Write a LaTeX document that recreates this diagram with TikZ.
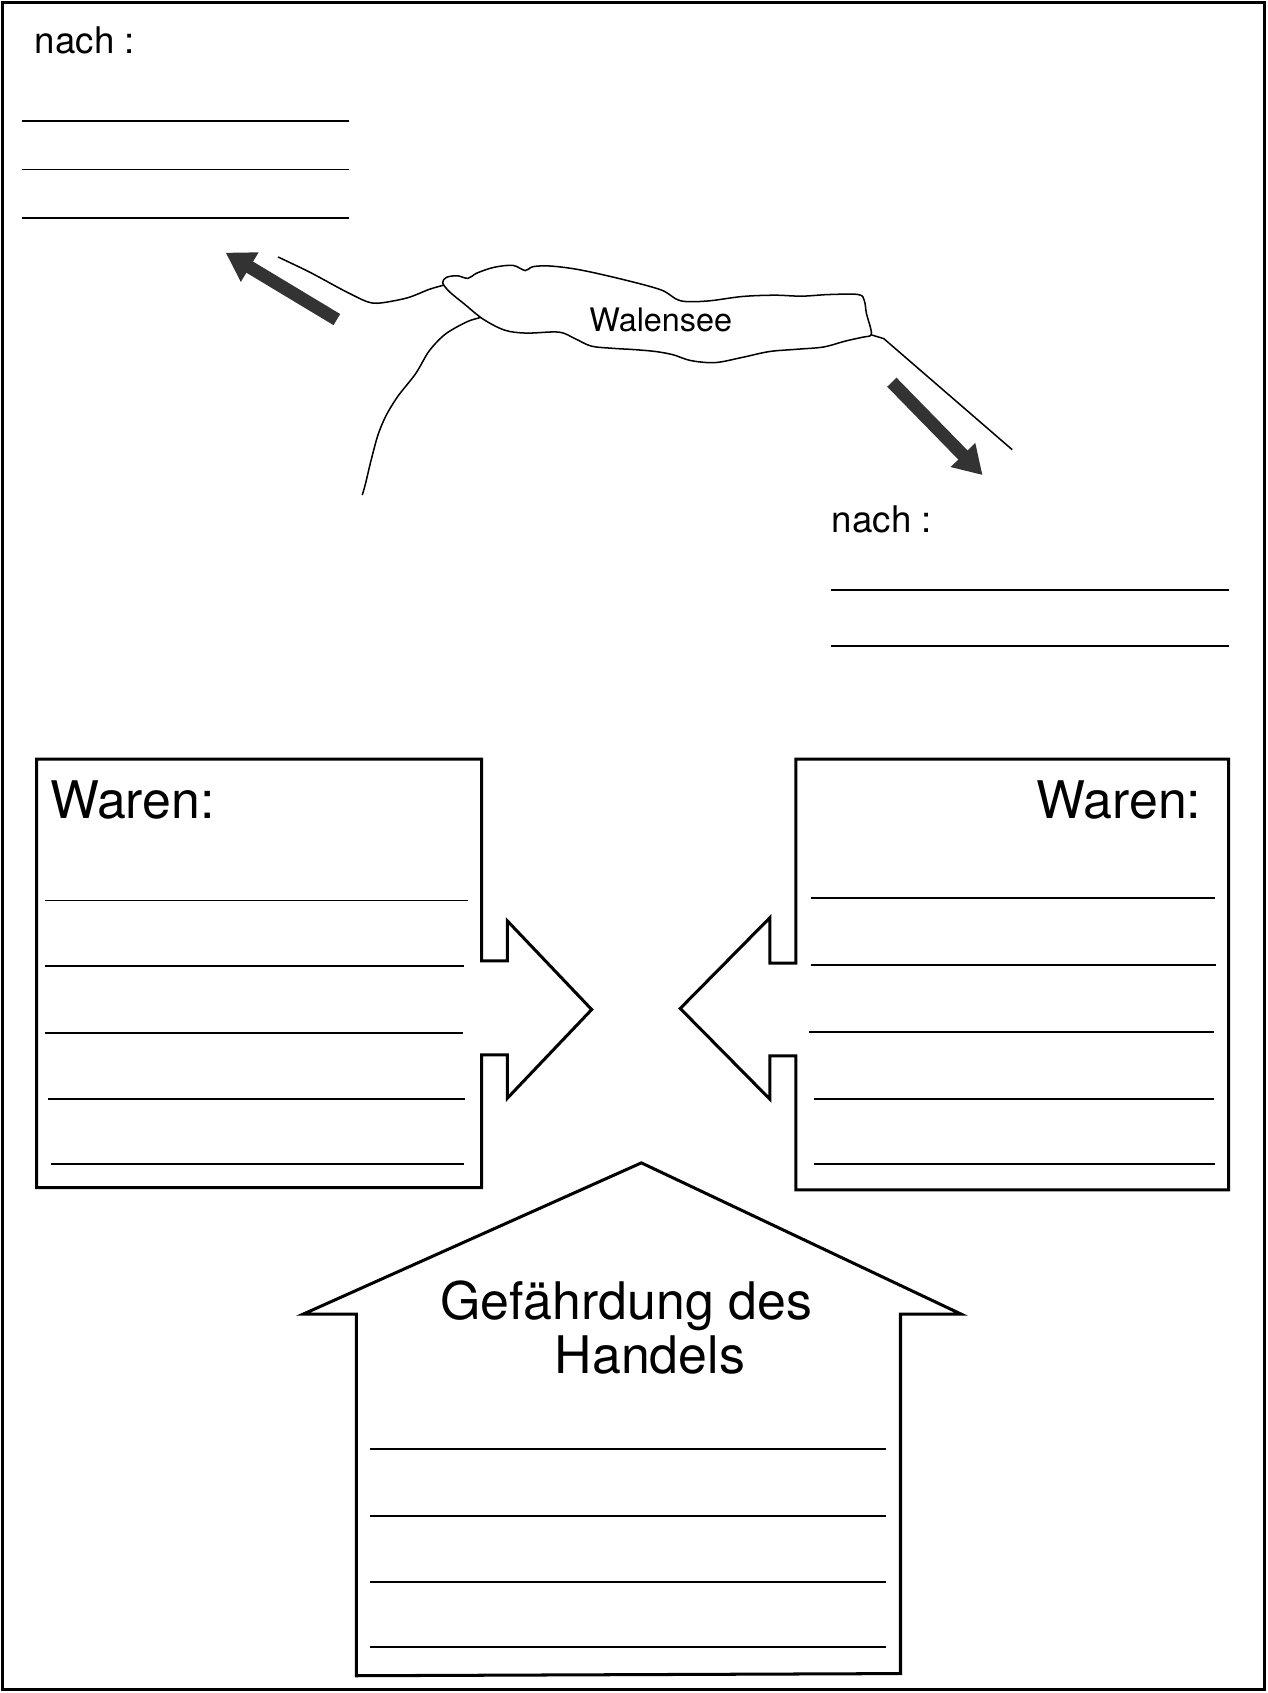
\documentclass[tikz,border=0pt]{standalone}
\usepackage{fontspec}
\setmainfont{TeX Gyre Heros}
\usetikzlibrary{arrows.meta}
\definecolor{arrowgray}{HTML}{333333}
\begin{document}
\begin{tikzpicture}[x=0.5pt,y=-0.5pt,
  frame/.style={line width=1.4pt},
  outline/.style={line width=1.4pt, line join=miter},
  wline/.style={line width=0.9pt},
  river/.style={line width=0.7pt, line join=round},
  flow/.style={draw=arrowgray, line width=6pt, -{Triangle[length=13pt,width=15pt]}},
  txt/.style={inner sep=0pt, text=black}]
\useasboundingbox (0,0) rectangle (1174,1568);
% page frame
\draw[frame] (2,2) rectangle (1171,1565);

% top-left "nach :"
\node[txt, anchor=base west, font=\fontsize{17pt}{20pt}\selectfont] (nach1) at (32,50) {nach :};
\foreach \y in {112,157,202} \draw[wline] (20,\y) -- (323,\y);

% bottom-right "nach :"
\node[txt, anchor=base west, font=\fontsize{17pt}{20pt}\selectfont] (nach2) at (770,493) {nach :};
\foreach \y in {546,598} \draw[wline] (770,\y) -- (1138,\y);

% lake and rivers
\begin{scope}[shift={(187.5,217)}, xscale=0.5, yscale=0.3]
  \draw[river] plot[smooth cycle, tension=0.55] coordinates {
    (445,150) (452,133) (472,128) (492,136) (508,120) (540,102) (575,96) (598,112) (612,100)
    (645,98) (700,110) (780,140) (850,172) (885,205) (935,206) (1000,192) (1060,188) (1110,191)
    (1160,186) (1215,186) (1226,205) (1230,245) (1238,292) (1238,312) (1222,318) (1190,330)
    (1150,348) (1100,355) (1050,362) (1000,380) (950,396) (905,390) (872,372) (840,362)
    (800,356) (760,352) (720,345) (690,322) (660,302) (600,305) (560,296) (520,262) (485,215) (458,178)};
  \draw[river] plot[smooth, tension=0.5] coordinates {
    (140,70) (200,118) (260,172) (305,208) (330,212) (380,196) (420,170) (447,157)};
  \draw[river] plot[smooth, tension=0.5] coordinates {
    (515,257) (490,270) (450,308) (420,360) (395,430) (362,500) (340,560) (325,620) (312,700) (302,770) (296,805)};
  \draw[river] (1238,310) -- (1262,322) -- (1500,665);
\end{scope}
\node[txt, font=\fontsize{15pt}{18pt}\selectfont] (lake) at (612,296) {Walensee};

\coordinate (l0) at (312,296);
\coordinate (l1) at (209,234);
\coordinate (r0) at (826,354);
\coordinate (r1) at (910,440);
\draw[flow] (l0) -- (l1);
\draw[flow] (r0) -- (r1);

% left goods box with arrow
\draw[outline] (34,703) -- (446,703) -- (446,890) -- (470,890) -- (470,853) -- (548,935)
  -- (470,1017) -- (470,977) -- (446,977) -- (446,1100) -- (34,1100) -- cycle;
\node[txt, anchor=base west, font=\fontsize{24pt}{28pt}\selectfont] (warenL) at (46,758) {Waren:};
\draw[wline] (42,834) -- (433,834);
\draw[wline] (42,895) -- (430,895);
\draw[wline] (42,957) -- (429,957);
\draw[wline] (44,1018) -- (431,1018);
\draw[wline] (47,1078) -- (430,1078);

% right goods box with arrow
\draw[outline] (1138,703) -- (737,703) -- (737,892) -- (713,892) -- (713,850) -- (630,934)
  -- (713,1018) -- (713,978) -- (737,978) -- (737,1102) -- (1138,1102) -- cycle;
\node[txt, anchor=base east, font=\fontsize{24pt}{28pt}\selectfont] (warenR) at (1113,758) {Waren:};
\draw[wline] (751,832) -- (1125,832);
\draw[wline] (751,894) -- (1126,894);
\draw[wline] (749,956) -- (1124,956);
\draw[wline] (754,1018) -- (1124,1018);
\draw[wline] (754,1078) -- (1125,1078);

% house
\draw[outline] (594,1077) -- (281,1217) -- (330,1217) -- (330,1552) -- (834,1550)
  -- (834,1217) -- (890,1217) -- cycle;
\node[txt, anchor=base, font=\fontsize{24pt}{28pt}\selectfont] (gef) at (580,1222) {Gefährdung des};
\node[txt, anchor=base, font=\fontsize{24pt}{28pt}\selectfont] (handel) at (602,1272) {Handels};
\foreach \y in {1342,1404,1465,1525} \draw[wline] (343,\y) -- (821,\y);
\end{tikzpicture}
\end{document}
